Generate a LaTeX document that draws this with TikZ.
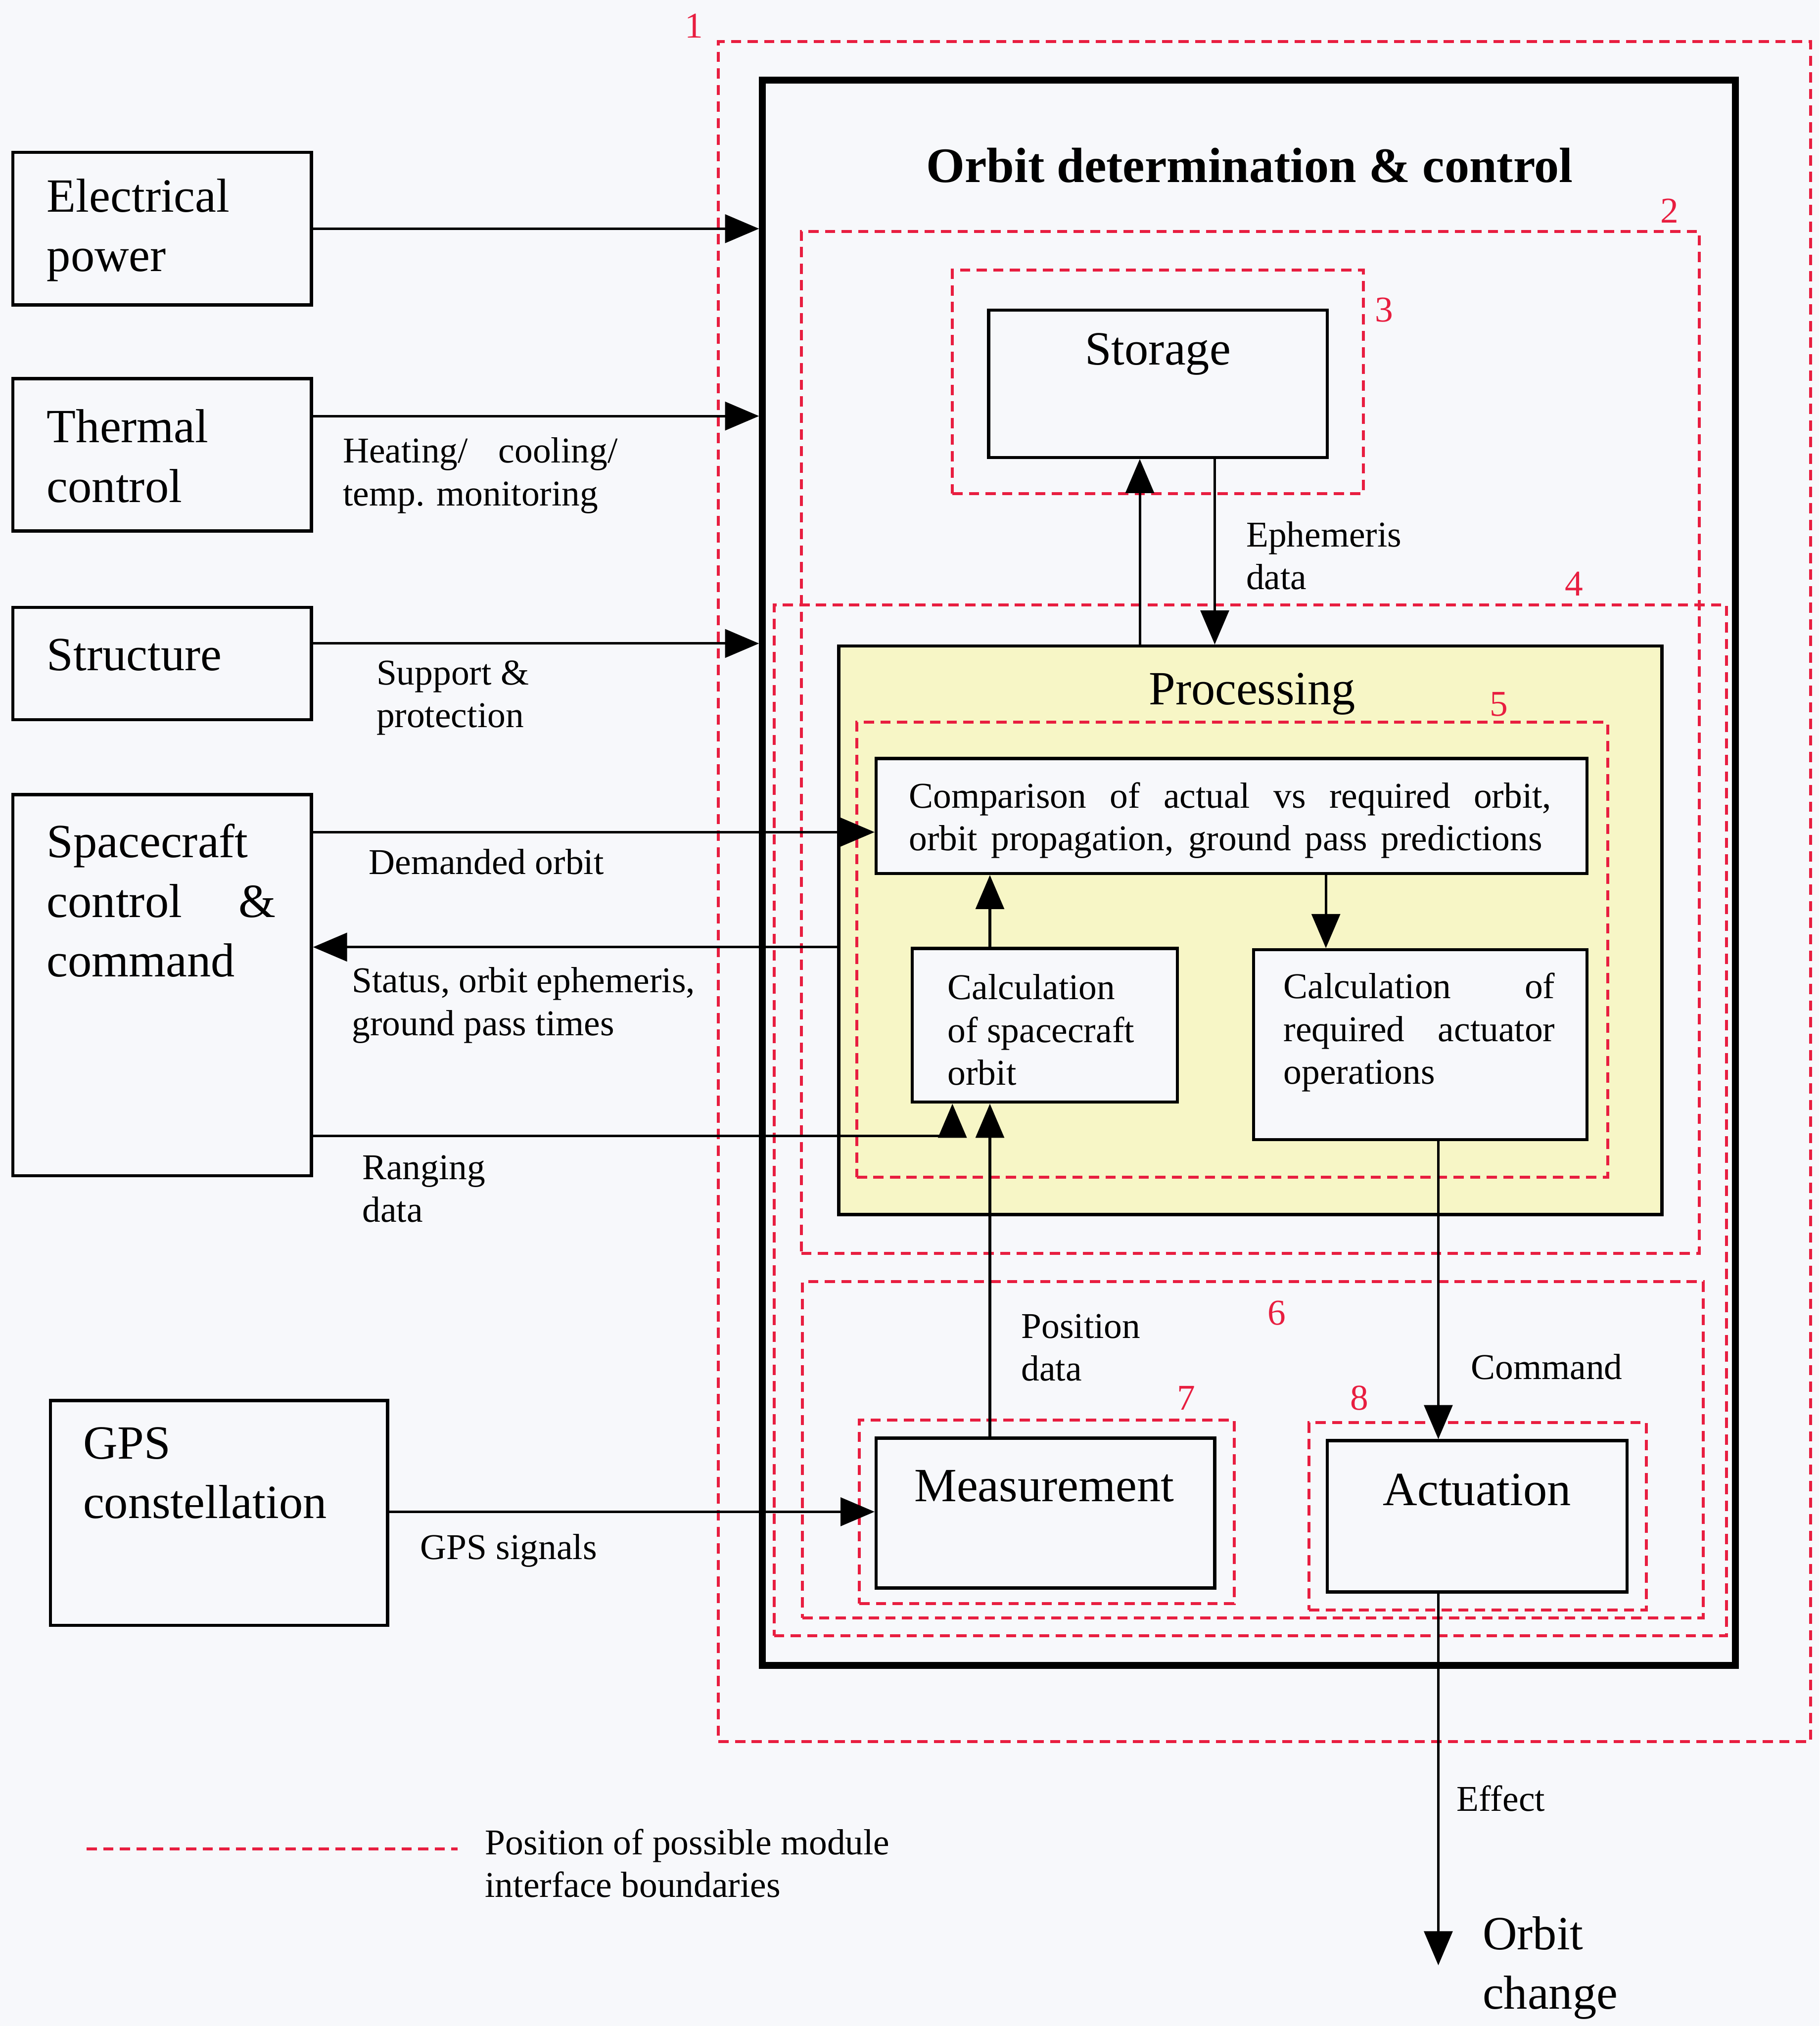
\documentclass[tikz,border=0pt]{standalone}
\usepackage{fontspec}
\setmainfont{Liberation Serif}
\usetikzlibrary{arrows.meta,fit}
\definecolor{bdred}{RGB}{232,30,64}
\definecolor{procyel}{RGB}{247,246,198}
\definecolor{paper}{RGB}{247,248,251}
\begin{document}
\begin{tikzpicture}[x=0.02cm,y=-0.02cm,
  blk/.style={draw=black, line width=1.4pt, fill=paper, inner sep=0pt},
  thickbox/.style={draw=black, line width=3pt, inner sep=0pt},
  redbox/.style={draw=bdred, line width=1.3pt, dash pattern=on 4.5pt off 2.8pt, inner sep=0pt},
  redline/.style={draw=bdred, line width=1.3pt, dash pattern=on 4.5pt off 2.8pt},
  conn/.style={line width=1.1pt},
  arr/.style={conn, -{Triangle[length=15pt,width=12.5pt]}},
  bigtxt/.style={font=\fontsize{21}{26.2}\selectfont, inner sep=0pt, align=left},
  lbl/.style={font=\fontsize{16}{18.8}\selectfont, inner sep=0pt, align=left},
  num/.style={text=bdred, font=\fontsize{16}{18}\selectfont, inner sep=0pt}]
\useasboundingbox (0,0) rectangle (1408,1568);
\fill[paper] (0,0) rectangle (1408,1568);

% module boundaries and boxes
\node[redbox, fit={(556,32)(1401,1348)}] (r1) {};
\node[thickbox, fit={(590,62)(1343,1289)}] (odc) {};
\node[redbox, fit={(620,179)(1315,970)}] (r2) {};
\node[redbox, fit={(737,209)(1055,382)}] (r3) {};
\node[blk, fit={(765,240)(1027,354)}] (stor) {};
\node[redbox, fit={(599,468)(1336,1266)}] (r4) {};
\node[blk, fill=procyel, fit={(649,500)(1286,940)}] (proc) {};
\node[redbox, fit={(663,559)(1244,911)}] (r5) {};
\node[blk, fit={(678,587)(1228,676)}] (comp) {};
\node[blk, fit={(706,734)(911,853)}] (calcsc) {};
\node[blk, fit={(970,735)(1228,882)}] (calcact) {};
\node[redbox, fit={(621,992)(1318,1252)}] (r6) {};
\node[redbox, fit={(665,1099)(955,1241)}] (r7) {};
\node[blk, fit={(678,1113)(940,1229)}] (meas) {};
\node[redbox, fit={(1013,1101)(1274,1246)}] (r8) {};
\node[blk, fit={(1027,1115)(1259,1232)}] (act) {};

\node[blk, fit={(10,118)(241,236)}] (elec) {};
\node[blk, fit={(10,293)(241,411)}] (therm) {};
\node[blk, fit={(10,470)(241,557)}] (struct) {};
\node[blk, fit={(10,615)(241,910)}] (scc) {};
\node[blk, fit={(39,1084)(300,1258)}] (gps) {};

% helper coordinates
\coordinate (yT) at (0,322);
\coordinate (yS) at (0,498);
\coordinate (yD) at (0,644);
\coordinate (ySt) at (0,733);
\coordinate (yR) at (0,879);
\coordinate (yG) at (0,1170);
\coordinate (xR) at (737,0);
\coordinate (xP) at (766,0);
\coordinate (xC) at (1026,0);
\coordinate (xA) at (1113,0);
\coordinate (xU) at (882,0);
\coordinate (xDn) at (940,0);
\coordinate (oend) at (1113,1521);
\coordinate (lg1) at (67,1431);
\coordinate (lg2) at (354,1431);

% connectors
\draw[arr] (elec.east) -- (elec.east -| odc.west);
\draw[arr] (therm.east |- yT) -- (odc.west |- yT);
\draw[arr] (struct.east |- yS) -- (odc.west |- yS);
\draw[arr] (scc.east |- yD) -- (comp.west |- yD);
\draw[arr] (proc.west |- ySt) -- (scc.east |- ySt);
\draw[arr] (scc.east |- yR) -| (calcsc.south -| xR);
\draw[arr] (meas.north -| xP) -- (calcsc.south -| xP);
\draw[arr] (calcsc.north -| xP) -- (comp.south -| xP);
\draw[arr] (comp.south -| xC) -- (calcact.north -| xC);
\draw[arr] (calcact.south -| xA) -- (act.north -| xA);
\draw[arr] (act.south -| xA) -- (oend);
\draw[arr] (proc.north -| xU) -- (stor.south -| xU);
\draw[arr] (stor.south -| xDn) -- (proc.north -| xDn);
\draw[arr] (gps.east |- yG) -- (meas.west |- yG);
\draw[redline] (lg1) -- (lg2);

% texts in boxes
\node[font=\bfseries\fontsize{21.8}{26}\selectfont, inner sep=0pt] (ttl) at (967,128) {Orbit determination \& control};
\node[bigtxt] (tstor) at (896,274) {Storage};
\node[bigtxt] (tproc) at (969,537) {Processing};
\node[lbl, anchor=west] (tcomp) at (703,635) {\makebox[283pt][s]{Comparison of actual vs required orbit,}\\\makebox[279pt][s]{orbit propagation, ground pass predictions}};
\node[lbl, anchor=west] (tcalcsc) at (733,797) {Calculation\\of spacecraft\\orbit};
\node[lbl, anchor=west] (tcalcact) at (993,799) {\makebox[119.5pt][s]{Calculation of}\\\makebox[119.5pt][s]{required actuator}\\operations};
\node[bigtxt] (tmeas) at (808,1150) {Measurement};
\node[bigtxt] (tact) at (1143,1153) {Actuation};

\node[bigtxt, anchor=west] (telec) at (36,178) {Electrical\\power};
\node[bigtxt, anchor=west] (ttherm) at (36,353) {Thermal\\control};
\node[bigtxt, anchor=west] (tstruct) at (36,507) {Structure};
\node[bigtxt, anchor=west] (tscc) at (36,697) {Spacecraft\\\makebox[100.7pt][s]{control \&}\\command};
\node[bigtxt, anchor=west] (tgps) at (64,1140) {GPS\\constellation};

% connector labels
\node[lbl, anchor=west] (lheat) at (265,368) {\makebox[121pt][s]{Heating/ cooling/}\\temp. monitoring};
\node[lbl, anchor=west] (lsup) at (291,540) {Support \&\\protection};
\node[lbl, anchor=west] (ldem) at (285,667) {Demanded orbit};
\node[lbl, anchor=west] (lstat) at (272,778) {Status, orbit ephemeris,\\ground pass times};
\node[lbl, anchor=west] (lrang) at (280,920) {Ranging\\data};
\node[lbl, anchor=west] (lgps) at (325,1200) {GPS signals};
\node[lbl, anchor=west] (leph) at (964,430) {Ephemeris\\data};
\node[lbl, anchor=west] (lpos) at (790,1043) {Position\\data};
\node[lbl, anchor=west] (lcmd) at (1138,1058) {Command};
\node[lbl, anchor=west] (leff) at (1127,1392) {Effect};
\node[bigtxt, anchor=west] (lorb) at (1147,1523) {Orbit\\change};
\node[lbl, anchor=west] (lleg) at (375,1442) {Position of possible module\\interface boundaries};

% boundary numbers
\node[num] (n1) at (537,20) {1};
\node[num] (n2) at (1292,163) {2};
\node[num] (n3) at (1071,240) {3};
\node[num] (n4) at (1218,452) {4};
\node[num] (n5) at (1160,545) {5};
\node[num] (n6) at (988,1016) {6};
\node[num] (n7) at (918,1082) {7};
\node[num] (n8) at (1052,1082) {8};
\end{tikzpicture}
\end{document}
